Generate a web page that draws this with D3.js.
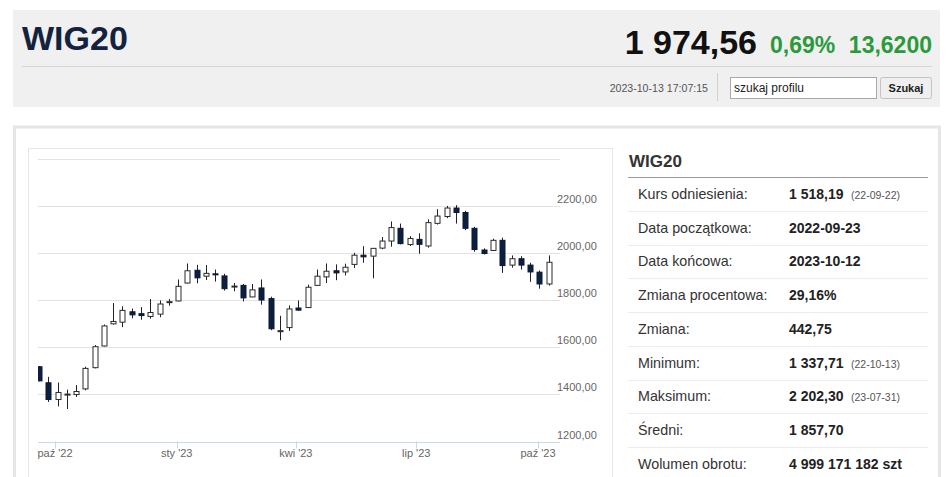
<!DOCTYPE html>
<html>
<head>
<meta charset="utf-8">
<script src="https://cdn.jsdelivr.net/npm/d3@7"></script>
<style>
  body { margin: 0; background: #fff; }
  svg { display: block; }
  text { font-family: "Liberation Sans", Arial, sans-serif; }
</style>
</head>
<body>
<svg id="page" width="948" height="477"></svg>
<script>
// weekly candles (week start, Monday)
const weeks = [
  '2022-09-19', '2022-09-26', '2022-10-03', '2022-10-10', '2022-10-17', '2022-10-24', '2022-10-31',
  '2022-11-07', '2022-11-14', '2022-11-21', '2022-11-28', '2022-12-05', '2022-12-12', '2022-12-19',
  '2022-12-26', '2023-01-02', '2023-01-09', '2023-01-16', '2023-01-23', '2023-01-30', '2023-02-06',
  '2023-02-13', '2023-02-20', '2023-02-27', '2023-03-06', '2023-03-13', '2023-03-20', '2023-03-27',
  '2023-04-03', '2023-04-10', '2023-04-17', '2023-04-24', '2023-05-01', '2023-05-08', '2023-05-15',
  '2023-05-22', '2023-05-29', '2023-06-05', '2023-06-12', '2023-06-19', '2023-06-26', '2023-07-03',
  '2023-07-10', '2023-07-17', '2023-07-24', '2023-07-31', '2023-08-07', '2023-08-14', '2023-08-21',
  '2023-08-28', '2023-09-04', '2023-09-11', '2023-09-18', '2023-09-25', '2023-10-02', '2023-10-09'
]
const open = [
  1517, 1449, 1378, 1399, 1399, 1423, 1513, 1605, 1699, 1706, 1750, 1742, 1730, 1740,
  1790, 1796, 1872, 1926, 1901, 1911, 1902, 1858, 1862, 1813, 1851, 1806, 1668, 1683,
  1766, 1768, 1862, 1898, 1924, 1919, 1951, 1990, 1986, 2020, 2050, 2104, 2035, 2057,
  2029, 2125, 2154, 2190, 2171, 2104, 2012, 2010, 2053, 1948, 1975, 1948, 1918, 1868
]
const high = [
  1520, 1474, 1450, 1420, 1439, 1517, 1609, 1696, 1787, 1773, 1764, 1770, 1804, 1798,
  1804, 1887, 1955, 1949, 1948, 1929, 1911, 1872, 1868, 1868, 1887, 1814, 1733, 1777,
  1798, 1865, 1929, 1955, 1951, 1954, 2000, 2028, 2019, 2067, 2133, 2124, 2071, 2083,
  2142, 2185, 2199, 2202.3, 2178, 2110, 2019, 2060, 2064, 1989, 1986, 1958, 1925, 1989
]
const low = [
  1455, 1368, 1349, 1337.71, 1389, 1417, 1510, 1603, 1696, 1685, 1723, 1716, 1721, 1727,
  1776, 1794, 1870, 1871, 1885, 1878, 1840, 1837, 1794, 1812, 1780, 1672, 1629, 1669,
  1755, 1766, 1860, 1872, 1884, 1904, 1936, 1958, 1892, 2015, 2026, 2036, 2029, 1996,
  2022, 2120, 2147, 2124, 2096, 2005, 1993, 2008, 1915, 1937, 1929, 1877, 1848, 1861
]
const close = [
  1457, 1378, 1408, 1401, 1412, 1510, 1602, 1690, 1709, 1756, 1737, 1734, 1747, 1783,
  1793, 1858, 1924, 1894, 1913, 1910, 1848, 1859, 1809, 1843, 1800, 1678, 1670, 1762,
  1757, 1854, 1901, 1922, 1915, 1939, 1990, 1983, 2019, 2050, 2107, 2039, 2061, 2036,
  2128, 2156, 2190, 2171, 2104, 2014, 1997, 2053, 1946, 1975, 1948, 1919, 1868, 1960
]

const xTickDates = ['2022-10-01', '2023-01-01', '2023-04-01', '2023-07-01', '2023-10-01']
const xTickLabels = ["paź '22", "sty '23", "kwi '23", "lip '23", "paź '23"]
const yTicks = [1200, 1400, 1600, 1800, 2000, 2200, 2400]
const yLabelMax = 2200

const statLabels = ['Kurs odniesienia:', 'Data początkowa:', 'Data końcowa:', 'Zmiana procentowa:',
  'Zmiana:', 'Minimum:', 'Maksimum:', 'Średni:', 'Wolumen obrotu:']
const statValues = ['1 518,19', '2022-09-23', '2023-10-12', '29,16%', '442,75', '1 337,71',
  '2 202,30', '1 857,70', '4 999 171 182 szt']
const statNotes = ['(22-09-22)', '', '', '', '', '(22-10-13)', '(23-07-31)', '', '']

const svg = d3.select('#page')
const green = '#2a9a3c'

// ---- header ----
svg.append('rect').attr('x', 13).attr('y', 10).attr('width', 927).attr('height', 97).attr('fill', '#f0f0f0')
svg.append('text').attr('x', 22).attr('y', 50)
    .attr('font-family', '"Open Sans", sans-serif').attr('font-weight', 600).attr('font-size', 34)
    .attr('fill', '#13223f').text('WIG20')
svg.append('text').attr('x', 757).attr('y', 54).attr('text-anchor', 'end')
    .attr('font-weight', 'bold').attr('font-size', 34).attr('fill', '#111').text('1 974,56')
svg.append('text').attr('x', 770).attr('y', 53)
    .attr('font-weight', 'bold').attr('font-size', 23).attr('fill', green).text('0,69%')
svg.append('text').attr('x', 932).attr('y', 53).attr('text-anchor', 'end')
    .attr('font-weight', 'bold').attr('font-size', 23).attr('fill', green).text('13,6200')
svg.append('line').attr('x1', 22).attr('x2', 932).attr('y1', 66.5).attr('y2', 66.5)
    .attr('stroke', '#d6d6d6')
svg.append('text').attr('x', 708).attr('y', 92).attr('text-anchor', 'end')
    .attr('font-size', 10.6).attr('fill', '#555').text('2023-10-13 17:07:15')
svg.append('line').attr('x1', 717.5).attr('x2', 717.5).attr('y1', 73).attr('y2', 101).attr('stroke', '#d0d0d0')
svg.append('rect').attr('x', 730.5).attr('y', 77.5).attr('width', 146).attr('height', 21)
    .attr('fill', '#fff').attr('stroke', '#a9a9a9')
svg.append('text').attr('x', 734).attr('y', 92).attr('font-size', 12).attr('fill', '#222').text('szukaj profilu')
svg.append('rect').attr('x', 880.5).attr('y', 77.5).attr('width', 51).attr('height', 21).attr('rx', 2)
    .attr('fill', '#efefef').attr('stroke', '#c4c4c4')
svg.append('text').attr('x', 906).attr('y', 92).attr('text-anchor', 'middle')
    .attr('font-weight', 'bold').attr('font-size', 11).attr('fill', '#222').text('Szukaj')

// ---- boxes ----
svg.append('rect').attr('x', 14.5).attr('y', 127).attr('width', 925).attr('height', 400)
    .attr('fill', '#fff').attr('stroke', '#e6e6e6').attr('stroke-width', 3)
svg.append('rect').attr('x', 28.5).attr('y', 148.5).attr('width', 584).attr('height', 400)
    .attr('fill', '#fff').attr('stroke', '#e6e6e6')

// ---- chart ----
const plotLeft = 38, plotRight = 560
const x = d3.scaleUtc()
    .domain([new Date('2022-10-01'), new Date('2023-10-01')])
    .range([55, 538])
const y = d3.scaleLinear().domain([1200, 2400]).range([441.5, 158.5])

svg.append('defs').append('clipPath').attr('id', 'plot')
    .append('rect').attr('x', plotLeft).attr('y', 150).attr('width', plotRight - plotLeft).attr('height', 300)

const grid = svg.append('g')
grid.selectAll('line').data(yTicks.slice(1)).enter().append('line')
    .attr('x1', plotLeft).attr('x2', plotRight)
    .attr('y1', d => Math.round(y(d)) + 0.5).attr('y2', d => Math.round(y(d)) + 0.5)
    .attr('stroke', '#e3e3e3')
grid.selectAll('text').data(yTicks.filter(d => d <= yLabelMax)).enter().append('text')
    .attr('x', 557).attr('y', d => y(d) - 3)
    .attr('font-size', 11).attr('fill', '#666')
    .text(d => d3.format('.2f')(d).replace('.', ','))

// x axis
const xAxis = svg.append('g')
xAxis.append('line').attr('x1', plotLeft).attr('x2', plotRight)
    .attr('y1', Math.round(y(1200)) + 0.5).attr('y2', Math.round(y(1200)) + 0.5).attr('stroke', '#ccd6eb')
xAxis.selectAll('line.tick').data(xTickDates).enter().append('line')
    .attr('class', 'tick')
    .attr('x1', d => Math.round(x(new Date(d))) + 0.5).attr('x2', d => Math.round(x(new Date(d))) + 0.5)
    .attr('y1', y(1200)).attr('y2', y(1200) + 7)
    .attr('stroke', '#ccd6eb')
xAxis.selectAll('text').data(xTickDates).enter().append('text')
    .attr('x', d => x(new Date(d))).attr('y', 457)
    .attr('text-anchor', 'middle').attr('font-size', 11).attr('fill', '#666')
    .text((d, i) => xTickLabels[i])

// candles
const candles = weeks.map((w, i) => ({date: new Date(w), o: open[i], h: high[i], l: low[i], c: close[i]}))
const cg = svg.append('g').attr('clip-path', 'url(#plot)')
const bodyW = 5
const g = cg.selectAll('g.candle').data(candles).enter().append('g').attr('class', 'candle')
g.append('line')
    .attr('x1', d => Math.round(x(d.date)) + 0.5).attr('x2', d => Math.round(x(d.date)) + 0.5)
    .attr('y1', d => y(d.h)).attr('y2', d => y(d.l))
    .attr('stroke', '#222').attr('stroke-width', 1)
g.append('rect')
    .attr('x', d => Math.round(x(d.date)) - 2)
    .attr('width', bodyW)
    .attr('y', d => y(Math.max(d.o, d.c)))
    .attr('height', d => Math.max(1, Math.abs(y(d.o) - y(d.c))))
    .attr('fill', d => d.c < d.o ? '#0c1f40' : '#fff')
    .attr('stroke', d => d.c < d.o ? '#0a1a33' : '#2b2b2b')
    .attr('stroke-width', 1)

// ---- stats panel ----
const px = 628
svg.append('text').attr('x', 629).attr('y', 167)
    .attr('font-weight', 'bold').attr('font-size', 17).attr('fill', '#333').text('WIG20')
svg.append('line').attr('x1', px).attr('x2', 928).attr('y1', 177.5).attr('y2', 177.5).attr('stroke', '#9a9a9a')
const rowH = 33.7
const rows = svg.append('g')
rows.selectAll('line').data(statLabels.slice(0, -1)).enter().append('line')
    .attr('x1', px).attr('x2', 928)
    .attr('y1', (d, i) => Math.round(211 + i * rowH) + 0.5).attr('y2', (d, i) => Math.round(211 + i * rowH) + 0.5)
    .attr('stroke', '#ececec')
rows.selectAll('text.lab').data(statLabels).enter().append('text')
    .attr('class', 'lab').attr('x', 638).attr('y', (d, i) => 199 + i * rowH)
    .attr('font-size', 14.3).attr('fill', '#333').text(d => d)
rows.selectAll('text.val').data(statValues).enter().append('text')
    .attr('class', 'val').attr('x', 789).attr('y', (d, i) => 199 + i * rowH)
    .attr('font-size', 14).attr('font-weight', 'bold').attr('fill', '#222').text(d => d)
rows.selectAll('text.note').data(statNotes).enter().append('text')
    .attr('class', 'note').attr('x', 851).attr('y', (d, i) => 199 + i * rowH)
    .attr('font-size', 10.5).attr('fill', '#555').text(d => d)
</script>
</body>
</html>
